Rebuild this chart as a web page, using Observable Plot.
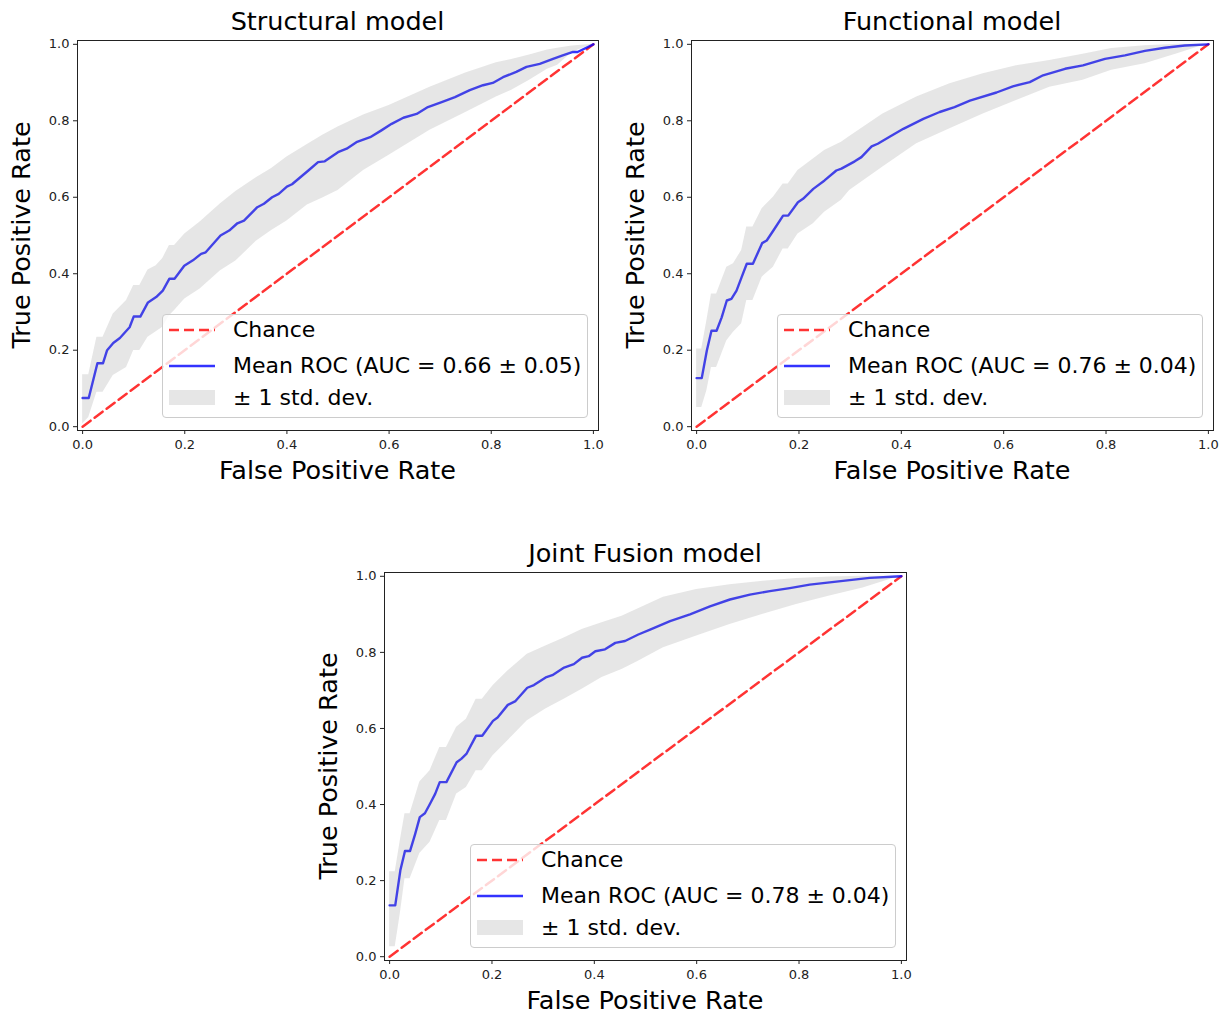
<!DOCTYPE html>
<html><head><meta charset="utf-8">
<script src="https://cdn.jsdelivr.net/npm/d3@7"></script>
<script src="https://cdn.jsdelivr.net/npm/@observablehq/plot@0.6"></script>
<style>
body{margin:0;background:#fff;}
#fig{position:relative;width:1223px;height:1016px;background:#fff;font-family:"DejaVu Sans",sans-serif;color:#000;overflow:hidden}
.t{position:absolute;transform:translate(-50%,-50%);white-space:nowrap;font-size:25.5px;line-height:1}
.yl{position:absolute;transform:translate(-50%,-50%) rotate(-90deg);white-space:nowrap;font-size:25.5px;line-height:1}
.leg{position:absolute;background:rgba(255,255,255,0.8);border:1px solid #cccccc;border-radius:4px;box-sizing:border-box}
.li{position:absolute;white-space:nowrap;font-size:22px;line-height:1;transform:translateY(-50%)}
.sw{position:absolute}
</style></head><body><div id="fig"></div>
<script>
// ---------- data ----------
const xTicks = [0, 0.2, 0.4, 0.6, 0.8, 1.0];
const yTicks = [0, 0.2, 0.4, 0.6, 0.8, 1.0];
const chanceX = [0, 1];
const chanceY = [0, 1];

// Structural model
const structMeanX = [0,0.012,0.029,0.04,0.048,0.06,0.073,0.092,0.10,0.113,0.128,0.144,0.157,0.17,0.18,0.199,0.216,0.232,0.241,0.27,0.287,0.303,0.316,0.342,0.355,0.371,0.384,0.40,0.41,0.442,0.461,0.474,0.50,0.517,0.536,0.563,0.585,0.605,0.628,0.654,0.676,0.703,0.729,0.758,0.784,0.803,0.823,0.849,0.869,0.895,0.921,0.94,0.96,0.969,1.0];
const structMeanY = [0.075,0.075,0.166,0.166,0.20,0.219,0.232,0.26,0.288,0.288,0.325,0.339,0.356,0.387,0.387,0.421,0.435,0.452,0.456,0.50,0.513,0.532,0.539,0.574,0.583,0.600,0.609,0.628,0.634,0.670,0.692,0.694,0.718,0.727,0.744,0.757,0.775,0.792,0.808,0.818,0.836,0.849,0.862,0.880,0.893,0.899,0.914,0.928,0.941,0.949,0.962,0.971,0.980,0.980,1.0];
const structBandX = [0,0.012,0.028,0.04,0.06,0.086,0.10,0.112,0.128,0.144,0.157,0.17,0.18,0.20,0.23,0.27,0.30,0.34,0.37,0.40,0.44,0.47,0.50,0.55,0.60,0.68,0.75,0.81,0.84,0.875,0.91,0.93,0.955,0.97,1.0];
const structUpper = [0.136,0.136,0.234,0.234,0.295,0.330,0.369,0.369,0.41,0.421,0.44,0.474,0.474,0.504,0.535,0.583,0.615,0.651,0.675,0.705,0.738,0.762,0.784,0.815,0.84,0.888,0.925,0.952,0.96,0.972,0.985,0.99,0.995,0.997,1.0];
const structLower = [0.007,0.024,0.09,0.09,0.134,0.155,0.199,0.199,0.234,0.248,0.26,0.29,0.304,0.334,0.36,0.408,0.433,0.485,0.513,0.538,0.58,0.598,0.618,0.67,0.71,0.775,0.822,0.862,0.88,0.906,0.935,0.945,0.975,0.985,1.0];

// Functional model
const funcMeanX = [0,0.01,0.02,0.029,0.039,0.049,0.059,0.068,0.078,0.088,0.098,0.11,0.128,0.137,0.15,0.169,0.179,0.198,0.208,0.228,0.25,0.273,0.283,0.309,0.322,0.342,0.354,0.378,0.404,0.443,0.475,0.504,0.534,0.586,0.618,0.651,0.677,0.72,0.755,0.798,0.837,0.876,0.915,0.954,1.0];
const funcMeanY = [0.127,0.127,0.199,0.251,0.251,0.286,0.33,0.334,0.356,0.391,0.426,0.426,0.48,0.487,0.513,0.552,0.552,0.587,0.596,0.622,0.644,0.670,0.675,0.694,0.705,0.733,0.74,0.759,0.779,0.805,0.823,0.836,0.853,0.874,0.89,0.901,0.919,0.936,0.945,0.962,0.971,0.983,0.991,0.997,1.0];
const funcBandX = [0,0.01,0.02,0.029,0.039,0.059,0.072,0.088,0.098,0.11,0.128,0.15,0.169,0.179,0.198,0.228,0.25,0.283,0.299,0.364,0.43,0.495,0.56,0.625,0.69,0.755,0.811,0.876,0.941,0.98,1.0];
const funcUpper = [0.203,0.203,0.277,0.347,0.347,0.417,0.426,0.461,0.522,0.522,0.570,0.60,0.635,0.635,0.670,0.70,0.722,0.744,0.759,0.818,0.862,0.897,0.923,0.944,0.958,0.974,0.989,0.996,1.0,1.0,1.0];
const funcLower = [0.05,0.05,0.094,0.155,0.155,0.225,0.247,0.269,0.33,0.33,0.391,0.417,0.465,0.465,0.504,0.531,0.561,0.592,0.618,0.679,0.74,0.779,0.818,0.853,0.888,0.906,0.932,0.949,0.976,0.993,1.0];

// Joint Fusion model
const jointMeanX = [0,0.011,0.021,0.03,0.04,0.05,0.059,0.069,0.079,0.089,0.098,0.111,0.131,0.14,0.15,0.169,0.181,0.202,0.211,0.231,0.246,0.269,0.282,0.305,0.318,0.341,0.36,0.376,0.389,0.402,0.421,0.441,0.46,0.486,0.509,0.548,0.587,0.626,0.665,0.704,0.743,0.782,0.821,0.86,0.899,0.938,1.0];
const jointMeanY = [0.135,0.135,0.227,0.278,0.278,0.323,0.367,0.377,0.402,0.428,0.459,0.459,0.511,0.52,0.533,0.581,0.581,0.62,0.629,0.662,0.672,0.707,0.714,0.734,0.74,0.76,0.769,0.786,0.79,0.803,0.808,0.825,0.83,0.847,0.86,0.882,0.90,0.921,0.939,0.952,0.961,0.969,0.978,0.984,0.99,0.996,1.0];
const jointBandX = [0,0.011,0.021,0.03,0.04,0.059,0.079,0.098,0.111,0.131,0.15,0.169,0.181,0.202,0.231,0.269,0.305,0.341,0.376,0.415,0.454,0.486,0.535,0.6,0.665,0.73,0.795,0.86,0.925,0.976,1.0];
const jointUpper = [0.223,0.223,0.306,0.376,0.376,0.459,0.489,0.55,0.55,0.603,0.624,0.677,0.677,0.712,0.751,0.795,0.817,0.838,0.86,0.878,0.895,0.915,0.945,0.965,0.978,0.987,0.994,0.998,1.0,1.0,1.0];
const jointLower = [0.026,0.026,0.114,0.205,0.205,0.271,0.301,0.358,0.358,0.428,0.445,0.489,0.489,0.528,0.568,0.62,0.651,0.677,0.703,0.734,0.755,0.777,0.812,0.843,0.873,0.9,0.926,0.948,0.969,0.991,1.0];

const titles = ["Structural model", "Functional model", "Joint Fusion model"];
const aucLabels = ["Mean ROC (AUC = 0.66 \u00b1 0.05)", "Mean ROC (AUC = 0.76 \u00b1 0.04)", "Mean ROC (AUC = 0.78 \u00b1 0.04)"];
const chanceLabel = "Chance";
const stdLabel = "\u00b1 1 std. dev.";
const xLabel = "False Positive Rate";
const yLabel = "True Positive Rate";

// ---------- layout ----------
const layout = [
  {frame:[77,40,598,430]},
  {frame:[691,40,1213,430]},
  {frame:[384,572,906,960]}
];
const series = [
  {mx:structMeanX,my:structMeanY,bx:structBandX,bu:structUpper,bl:structLower},
  {mx:funcMeanX,my:funcMeanY,bx:funcBandX,bu:funcUpper,bl:funcLower},
  {mx:jointMeanX,my:jointMeanY,bx:jointBandX,bu:jointUpper,bl:jointLower}
];

const fig = document.getElementById("fig");
const fmt = d3.format(".1f");
const chanceData = chanceX.map((x,i)=>({x, y:chanceY[i]}));

function addDiv(cls, text, left, top) {
  const d = document.createElement("div");
  d.className = cls; d.textContent = text;
  d.style.left = left + "px"; d.style.top = top + "px";
  fig.appendChild(d); return d;
}

series.forEach((s, k) => {
  const [fl, ft, fr, fb] = layout[k].frame;
  const mL = 44, mT = 5, mR = 8, mB = 30;
  const meanData = s.mx.map((x,i)=>({x, y:s.my[i]}));
  const bandData = s.bx.map((x,i)=>({x, lo:s.bl[i], hi:s.bu[i]}));
  const chart = Plot.plot({
    width: fr - fl + mL + mR, height: fb - ft + mT + mB,
    marginLeft: mL, marginTop: mT, marginRight: mR, marginBottom: mB,
    style: {fontFamily: "DejaVu Sans", fontSize: "13px", color: "#222", background: "transparent", overflow: "visible"},
    x: {domain: [-0.01, 1.01]},
    y: {domain: [-0.01, 1.01]},
    marks: [
      Plot.line(chanceData, {x:"x", y:"y", stroke:"red", strokeOpacity:0.8, strokeWidth:2.5, strokeDasharray:"10,5"}),
      Plot.line(meanData, {x:"x", y:"y", stroke:"blue", strokeOpacity:0.8, strokeWidth:2.4}),
      Plot.areaY(bandData, {x:"x", y1:"lo", y2:"hi", fill:"grey", fillOpacity:0.2}),
      Plot.frame({stroke:"#222", strokeWidth:1}),
      Plot.axisX({ticks: xTicks, tickFormat: fmt, tickSize: 4, tickPadding: 5, fontSize: 13, label: null}),
      Plot.axisY({ticks: yTicks, tickFormat: fmt, tickSize: 4, tickPadding: 4, fontSize: 13, label: null})
    ]
  });
  chart.style.position = "absolute";
  chart.style.left = (fl - mL) + "px";
  chart.style.top = (ft - mT) + "px";
  fig.appendChild(chart);

  const cx = (fl + fr) / 2, cy = (ft + fb) / 2;
  addDiv("t", titles[k], cx, ft - 18);
  addDiv("t", xLabel, cx, fb + 41);
  addDiv("yl", yLabel, fl - 55, cy);

  // legend
  const lw = 426, lh = 104;
  const leg = document.createElement("div");
  leg.className = "leg";
  leg.style.left = (fr - 10 - lw) + "px";
  leg.style.top = (fb - 12 - lh) + "px";
  leg.style.width = lw + "px"; leg.style.height = lh + "px";
  const ns = "http://www.w3.org/2000/svg";
  const sw = document.createElementNS(ns, "svg");
  sw.setAttribute("class", "sw");
  sw.setAttribute("width", 60); sw.setAttribute("height", lh);
  sw.style.left = "0px"; sw.style.top = "-1px";
  sw.innerHTML =
    '<line x1="6" x2="52" y1="16" y2="16" stroke="red" stroke-opacity="0.8" stroke-width="2.5" stroke-dasharray="10,5"/>' +
    '<line x1="6" x2="52" y1="52" y2="52" stroke="blue" stroke-opacity="0.8" stroke-width="2.4"/>' +
    '<rect x="6" y="76" width="46" height="15" fill="grey" fill-opacity="0.2"/>';
  leg.appendChild(sw);
  [[chanceLabel,16],[aucLabels[k],52],[stdLabel,84]].forEach(([txt,y]) => {
    const d = document.createElement("div");
    d.className = "li"; d.textContent = txt;
    d.style.left = "70px"; d.style.top = (y - 1) + "px";
    leg.appendChild(d);
  });
  fig.appendChild(leg);
});
</script></body></html>
